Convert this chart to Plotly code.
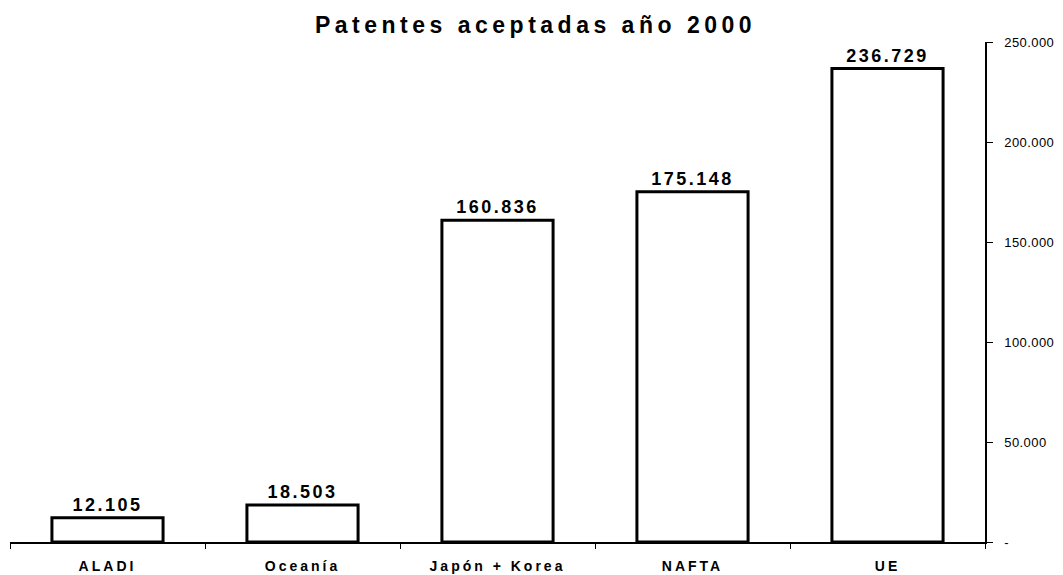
import plotly.graph_objects as go

regiones = ["ALADI", "Oceanía", "Japón + Korea", "NAFTA", "UE"]
patentes = [12105, 18503, 160836, 175148, 236729]
y_ticks = [0, 50000, 100000, 150000, 200000, 250000]
y_tick_labels = ["-", "50.000", "100.000", "150.000", "200.000", "250.000"]

fuente = "Liberation Sans, Arial"

fig = go.Figure()
fig.add_trace(go.Bar(
    x=regiones, y=patentes,
    marker=dict(color="white", line=dict(color="black", width=3)),
    texttemplate="%{y:,}", textposition="outside", cliponaxis=False,
    textfont=dict(family=fuente, size=18, color="black", weight="bold"),
))

# la página deja un margen de 8px, así que la figura es algo menor que la ventana
fig.update_layout(
    title=dict(text="<b>Patentes aceptadas año 2000</b>", x=0.5, xref="container",
               y=0.970, yref="container", yanchor="middle",
               font=dict(family=fuente, size=23, color="black")),
    width=1055, height=567,
    margin=dict(l=2, r=78, t=34, b=33),
    plot_bgcolor="white", paper_bgcolor="white",
    separators=",.",
    bargap=0.43,
    showlegend=False,
    xaxis=dict(showline=True, linecolor="black", linewidth=1.5,
               ticks="outside", tickson="boundaries", ticklen=5, tickcolor="black",
               ticklabelstandoff=10,
               tickfont=dict(family=fuente, size=14, color="black", weight="bold"),
               showgrid=False),
    yaxis=dict(side="right", range=[0, 250000], showline=True, linecolor="black", linewidth=1.5,
               ticks="outside", ticklen=6, tickcolor="black", ticklabelstandoff=9,
               tickvals=y_ticks, ticktext=y_tick_labels,
               tickfont=dict(family=fuente, size=13, color="black"),
               showgrid=False, zeroline=False),
)

# espaciado de letras como en el original
espaciado = """
var gd = document.getElementById('{plot_id}');
function espaciar() {
  gd.querySelectorAll('.gtitle').forEach(function(e) { e.style.letterSpacing = '4.5px'; });
  gd.querySelectorAll('.xtick text').forEach(function(e) { e.style.letterSpacing = '3px'; });
  gd.querySelectorAll('.ytick text').forEach(function(e) { e.style.letterSpacing = '0.4px'; });
  gd.querySelectorAll('text.bartext').forEach(function(e) { e.style.letterSpacing = '2.5px'; });
}
espaciar();
gd.on('plotly_afterplot', espaciar);
"""

fig.write_html("out.html", post_script=espaciado)
